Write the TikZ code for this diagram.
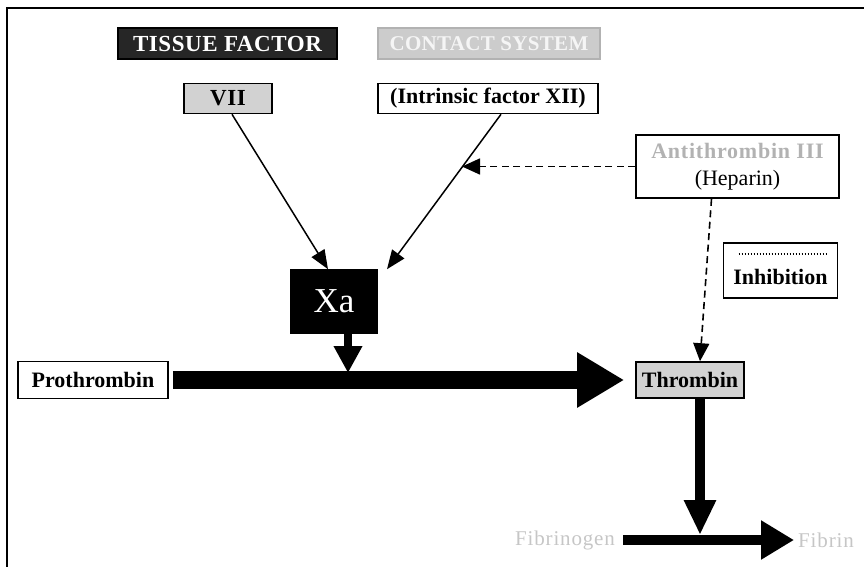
\documentclass[tikz,border=0pt]{standalone}
\usepackage{fontspec}
\setmainfont{Liberation Serif}
\usetikzlibrary{arrows.meta}

\begin{document}
\begin{tikzpicture}[x=1pt, y=-1pt,
  box/.style={draw, line width=1.6pt, inner sep=0pt, font=\bfseries\fontsize{22}{24}\selectfont},
  greybox/.style={box, fill=gray!35},
  spaced/.style={font=\bfseries\fontsize{23}{25}\selectfont\addfontfeature{LetterSpace=2.5}},
  plain/.style={inner sep=0pt, font=\fontsize{21}{23}\selectfont\addfontfeature{LetterSpace=4}},
  thinarrow/.style={line width=1.5pt, -{Triangle[length=19pt, width=15pt]}},
  inhibit/.style={line width=1.6pt, dash pattern=on 7pt off 4.5pt, -{Triangle[length=18pt, width=16pt]}}]
\useasboundingbox (0,0) rectangle (864,567);
\draw[line width=2.2pt] (7,567) -- (7,8) -- (864,8);

% starting points
\node[box, spaced, fill=black!85, text=white, minimum width=219pt, minimum height=31pt] (tissue) at (227.5,43.5) {TISSUE FACTOR};
\node[box, font=\bfseries\fontsize{21}{23}\selectfont\addfontfeature{LetterSpace=1.5}, draw=gray!60, fill=gray!40, text=gray!8, minimum width=222pt, minimum height=31pt] (contact) at (489,43.5) {CONTACT SYSTEM};
\node[greybox, spaced, minimum width=88pt, minimum height=30pt] (vii) at (228,98.5) {VII};
\node[box, minimum width=220pt, minimum height=30pt] (xii) at (488,98.5) {(Intrinsic factor XII)};

% inhibitor and legend
\node[box, font=\fontsize{22}{27}\selectfont, align=center, minimum width=203pt, minimum height=63pt] (anti) at (737.5,166.5)
  {\textcolor{gray!60}{\bfseries\addfontfeature{LetterSpace=3.5}Antithrombin III}\\(Heparin)};
\node[box, minimum width=114pt, minimum height=55pt] (legend) at (780.5,270.5) {\raisebox{-14pt}[0pt][0pt]{Inhibition}};
\draw[line width=1.6pt, dash pattern=on 1.4pt off 1.6pt] ([xshift=16pt, yshift=-12pt]legend.north west) -- ([xshift=-11pt, yshift=-12pt]legend.north east);

% cascade
\node[box, fill=black, text=white, font=\fontsize{35}{37}\selectfont, minimum width=86pt, minimum height=63pt] (xa) at (334,301.5) {Xa};
\node[box, minimum width=150pt, minimum height=37pt] (pro) at (93,380) {Prothrombin};
\node[greybox, minimum width=108pt, minimum height=36pt] (thrombin) at (690,380) {Thrombin};
\node[plain, text=gray!45] (fibrinogen) at (565,540) {Fibrinogen};
\node[plain, text=gray!45] (fibrin) at (826,540) {Fibrin};

\coordinate (xahit) at (348,373);
\coordinate (fibhit) at (700,535);
\coordinate (antihit) at (462,166.5);

\draw[thinarrow] ([xshift=4pt]vii.south) -- ([xshift=-6pt]xa.north);
\draw[thinarrow] ([xshift=13pt]xii.south) -- ([xshift=53pt]xa.north);
\draw[inhibit] (anti.west) -- (antihit);
\draw[inhibit] ([xshift=-26pt]anti.south) -- ([xshift=10pt]thrombin.north);

\draw[line width=18pt, -{Triangle[length=47pt, width=52pt]}, shorten <=4pt, shorten >=11pt] (pro.east) -- (thrombin.west);
\draw[line width=8pt, -{Triangle[length=27pt, width=27pt]}] ([xshift=14pt]xa.south) -- (xahit);
\draw[line width=10pt, -{Triangle[length=35pt, width=30pt]}] ([xshift=10pt]thrombin.south) -- (fibhit);
\draw[line width=10pt, -{Triangle[length=33pt, width=37pt]}, shorten <=8pt, shorten >=4pt] (fibrinogen.east) -- (fibrin.west);
\end{tikzpicture}
\end{document}
